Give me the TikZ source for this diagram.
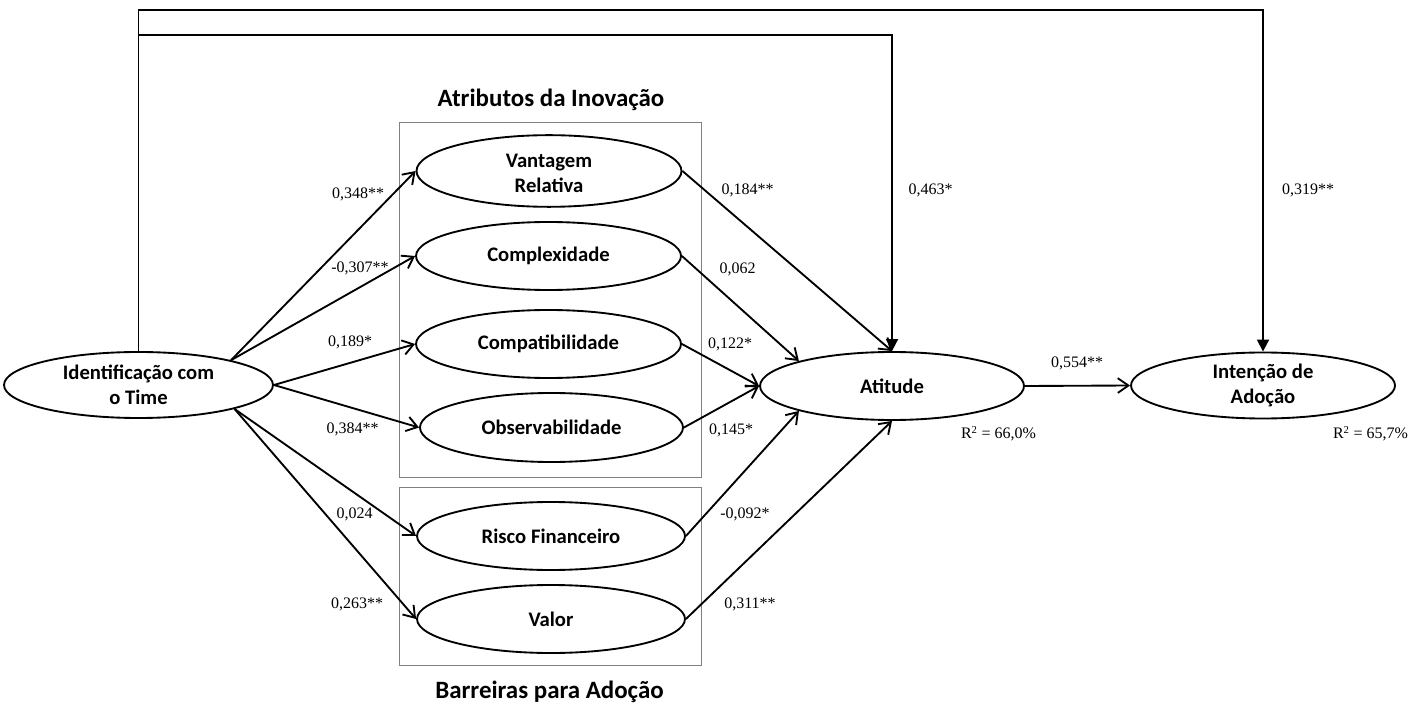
\documentclass[tikz,border=0pt]{standalone}
\usepackage{fontspec}
\setmainfont{Liberation Serif}
\newfontfamily\calib{Carlito}
\usetikzlibrary{shapes.geometric,arrows.meta}
\begin{document}
\begin{tikzpicture}[x=0.75pt,y=-0.75pt,
  lat/.style={ellipse,draw,line width=1.4pt,inner sep=0pt,align=center,
    font=\calib\bfseries\fontsize{15.5}{19}\selectfont,
    minimum width=198.75pt,minimum height=51pt},
  conn/.style={line width=1.4pt,-{Straight Barb[length=8pt,width=11pt]}},
  tri/.style={line width=1.4pt,-{Triangle[length=9pt,width=9pt]}},
  lbl/.style={anchor=base,inner sep=0pt,font=\fontsize{12}{14}\selectfont},
  ttl/.style={anchor=base,inner sep=0pt,font=\calib\bfseries\fontsize{18.7}{22}\selectfont},
  grp/.style={draw=black!50,line width=0.75pt}]
\useasboundingbox (0,0) rectangle (1423,712);

% group boxes
\draw[grp] (399,123) rectangle (701,477);
\draw[grp] (399,487) rectangle (701,665);
\node[ttl] (t1) at (551,107) {Atributos da Inovação};
\node[ttl] (t2) at (549.5,698) {Barreiras para Adoção};

% latent variables
\node[lat,minimum width=201.75pt,minimum height=49.5pt] (idt) at (138.5,385) {Identificação com\\o Time};
\node[lat,minimum height=50.25pt] (vr) at (549,171) {\raisebox{-3pt}[\height][\depth]{\begin{tabular}{@{}c@{}}Vantagem\\Relativa\end{tabular}}};
\node[lat] (cx) at (548.5,256) {Complexidade};
\node[lat] (cp) at (548.5,344) {Compatibilidade};
\node[lat,minimum width=197.25pt,minimum height=51.75pt] (ob) at (551.5,427.5) {Observabilidade};
\node[lat,minimum width=201pt] (rf) at (551,536) {Risco Financeiro};
\node[lat,minimum width=201pt] (va) at (551,619) {Valor};
\node[lat,minimum width=198pt] (att) at (892,386) {Atitude};
\node[lat,minimum width=198pt,minimum height=49.5pt] (int) at (1263,385.5) {Intenção de\\Adoção};

% paths from Identificação
\draw[conn] (idt.15) -- (vr.west);
\draw[conn] (idt.15) -- (cx.west);
\draw[conn] (idt.east) -- (cp.west);
\draw[conn] (idt.east) -- (ob.west);
\draw[conn] (idt.346) -- (rf.west);
\draw[conn] (idt.346) -- (va.west);

% paths to Atitude
\draw[conn] (vr.east) -- (att.north);
\draw[conn] (cx.east) -- (att.165);
\draw[conn] (cp.east) -- (att.west);
\draw[conn] (ob.east) -- (att.west);
\draw[conn] (rf.east) -- (att.195);
\draw[conn] (va.east) -- (att.south);
\draw[conn] (att.east) -- (int.west);

% direct paths
\draw[tri] (idt.north) -- (idt.north |- 0,35) -| (att.north);
\draw[tri] (idt.north) -- (idt.north |- 0,10) -| (int.north);

% labels
\node[lbl] (l1) at (358,199) {0,348**};
\node[lbl] (l2) at (360,273) {-0,307**};
\node[lbl] (l3) at (350,347) {0,189*};
\node[lbl] (l4) at (352.5,434) {0,384**};
\node[lbl] (l5) at (354.5,518) {0,024};
\node[lbl] (l6) at (357,608) {0,263**};
\node[lbl] (l7) at (747.5,195) {0,184**};
\node[lbl] (l8) at (737.5,274) {0,062};
\node[lbl] (l9) at (730,349) {0,122*};
\node[lbl] (l10) at (731,435) {0,145*};
\node[lbl] (l11) at (745,518) {-0,092*};
\node[lbl] (l12) at (750,608) {0,311**};
\node[lbl] (l13) at (930.5,195) {0,463*};
\node[lbl] (l14) at (1308,195) {0,319**};
\node[lbl] (l15) at (1077,368) {0,554**};
\node[lbl] (r1) at (998.5,439) {R\textsuperscript{2} = 66,0\%};
\node[lbl] (r2) at (1370.5,439) {R\textsuperscript{2} = 65,7\%};
\end{tikzpicture}
\end{document}
